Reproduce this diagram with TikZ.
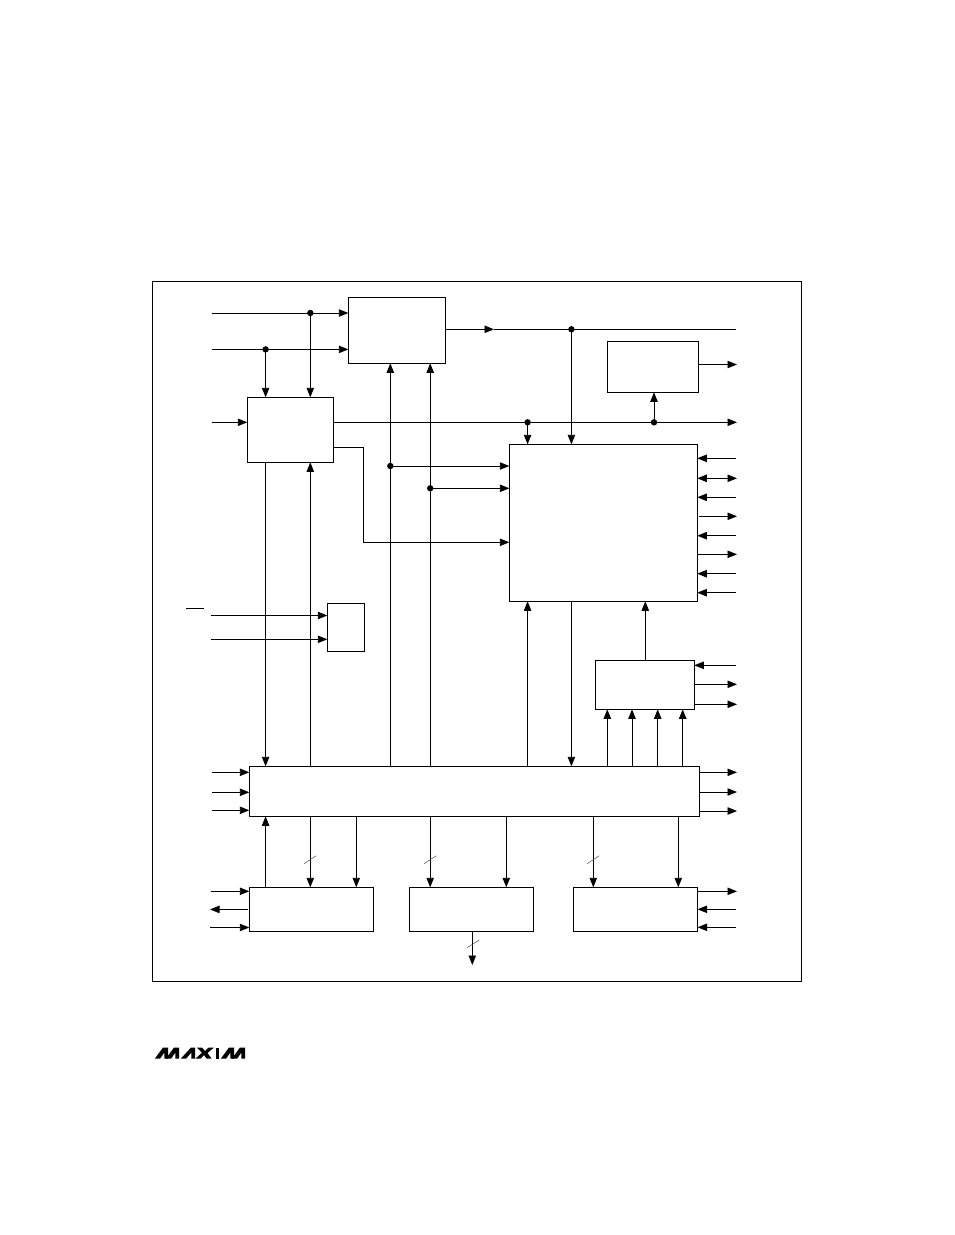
\documentclass[tikz,border=0pt]{standalone}
\usetikzlibrary{arrows.meta}
\tikzset{
  box/.style={draw=black,line width=0.9pt,fill=white,inner sep=0pt,outer sep=0pt,anchor=north west},
  wire/.style={draw=black,line width=0.9pt},
  arr/.style={wire,-{Triangle[length=9.5pt,width=7.4pt]}},
  darr/.style={wire,{Triangle[length=9.5pt,width=7.4pt]}-{Triangle[length=9.5pt,width=7.4pt]}},
  junction/.style={circle,fill=black,inner sep=0pt,minimum size=6.4pt},
  tick/.style={draw=black!70,line width=0.5pt},
  logo/.style={fill=black,draw=none}
}
\newcommand{\logowedge}[3]{% start x, apex x, right x
  \fill[logo] (#1,1058.5) -- (#2,1047.5) -- (#3,1047.5) -- (#3,1058.5) -- ({#3-3.6},1058.5) -- ({#3-3.6},1052.5) -- ({#1+5.2},1058.5) -- cycle;}
\begin{document}
\begin{tikzpicture}[x=1pt,y=-1pt]
\useasboundingbox (0,0) rectangle (954,1235);
\fill[white] (0,0) rectangle (954,1235);
\draw[line width=0.9pt] (152.5,281.5) rectangle (801.8,981.4);
% blocks
\node[box,minimum width=97pt,minimum height=66pt] (A) at (348.3,297.3) {};
\node[box,minimum width=86.4pt,minimum height=65pt] (B) at (247.3,397.3) {};
\node[box,minimum width=37pt,minimum height=48pt] (C) at (327.3,603.3) {};
\node[box,minimum width=188pt,minimum height=157pt] (D) at (509.3,444.3) {};
\node[box,minimum width=91pt,minimum height=51pt] (E) at (607.3,341.3) {};
\node[box,minimum width=99pt,minimum height=49pt] (F) at (595.3,660.3) {};
\node[box,minimum width=450pt,minimum height=50pt] (G) at (249.3,766.3) {};
\node[box,minimum width=124pt,minimum height=44pt] (H) at (249.3,887.3) {};
\node[box,minimum width=124pt,minimum height=44pt] (I) at (409.3,887.3) {};
\node[box,minimum width=124.3pt,minimum height=44pt] (J) at (573.3,887.3) {};
% free ends
\coordinate (la) at (212,313);
\coordinate (lb) at (212,349.4);
\coordinate (lc) at (212,422.3);
\coordinate (ld) at (211,615.5);
\coordinate (le) at (211,639.3);
\coordinate (lf) at (212,772.3);
\coordinate (lg) at (212,792.3);
\coordinate (lh) at (212,810.3);
\coordinate (li) at (211,891.3);
\coordinate (lj) at (210,909.4);
\coordinate (lk) at (210,927.5);
\coordinate (ra) at (736,329.3);
\coordinate (rb) at (737,364.5);
\coordinate (rc) at (737,422.3);
\coordinate (rd) at (736,458.3);
\coordinate (re) at (737,478.3);
\coordinate (rf) at (736,497.3);
\coordinate (rg) at (737,516.3);
\coordinate (rh) at (736,535.7);
\coordinate (ri) at (737,554.3);
\coordinate (rj) at (736,573.7);
\coordinate (rk) at (736,592.7);
\coordinate (rl) at (736,665.3);
\coordinate (rm) at (737,684.3);
\coordinate (rn) at (737,704.3);
\coordinate (ro) at (737,772.3);
\coordinate (rp) at (737,792);
\coordinate (rq) at (737,811);
\coordinate (rr) at (737,891.3);
\coordinate (rs) at (736,909.3);
\coordinate (rt) at (736,927.3);
\coordinate (mid) at (494,329.3);
\coordinate (bout) at (472.3,965);
% column helpers
\coordinate (x1) at (265.6,0);
\coordinate (x2) at (310.3,0);
\coordinate (x3) at (390.3,0);
\coordinate (x4) at (430.2,0);
\coordinate (x5) at (527.6,0);
\coordinate (x6) at (571.4,0);
\coordinate (x7) at (654,0);
\coordinate (x8) at (645.3,0);
\coordinate (xa) at (607.3,0);
\coordinate (xb) at (632,0);
\coordinate (xc) at (657.7,0);
\coordinate (xd) at (682.7,0);
\coordinate (xe) at (356.3,0);
\coordinate (xf) at (506.3,0);
\coordinate (xg) at (593.3,0);
\coordinate (xh) at (678.3,0);
\coordinate (xk) at (363.5,0);
\coordinate (y1) at (0,447.5);
\coordinate (y2) at (0,466);
\coordinate (y3) at (0,488.3);
\coordinate (y4) at (0,542.3);
% junctions
\node[junction] (j1) at (la -| x2) {};
\node[junction] (j2) at (lb -| x1) {};
\node[junction] (j3) at (ra -| x6) {};
\node[junction] (j4) at (rc -| x5) {};
\node[junction] (j5) at (rc -| x7) {};
\node[junction] (j6) at (y2 -| x3) {};
\node[junction] (j7) at (y3 -| x4) {};
% top inputs
\draw[arr] (la) -- (la -| A.west);
\draw[arr] (lb) -- (lb -| A.west);
\draw[arr] (j1.center) -- (j1 |- B.north);
\draw[arr] (j2.center) -- (j2 |- B.north);
\draw[arr] (lc) -- (lc -| B.west);
% A output
\draw[arr] (ra -| A.east) -- (mid);
\draw[wire] (mid) -- (ra);
\draw[arr] (j3.center) -- (j3 |- D.north);
% E
\draw[arr] (rb -| E.east) -- (rb);
\draw[arr] (j5.center) -- (j5 |- E.south);
% B output
\draw[arr] (rc -| B.east) -- (rc);
\draw[arr] (j4.center) -- (j4 |- D.north);
\draw[arr] (y1 -| B.east) -- (y1 -| xk) -- (y4 -| xk) -- (y4 -| D.west);
% uprights to A
\draw[arr] (x3 |- G.north) -- (x3 |- A.south);
\draw[arr] (x4 |- G.north) -- (x4 |- A.south);
\draw[arr] (j6.center) -- (y2 -| D.west);
\draw[arr] (j7.center) -- (y3 -| D.west);
% B to G
\draw[arr] (x1 |- B.south) -- (x1 |- G.north);
\draw[arr] (x2 |- G.north) -- (x2 |- B.south);
% C inputs
\draw[arr] (ld) -- (ld -| C.west);
\draw[arr] (le) -- (le -| C.west);
\draw[line width=0.9pt] (186,608.3) -- (203.7,608.3);
% D right
\draw[arr] (rd) -- (rd -| D.east);
\draw[darr] (re -| D.east) -- (re);
\draw[arr] (rf) -- (rf -| D.east);
\draw[arr] ([xshift=1.5pt]rg -| D.east) -- (rg);
\draw[arr] (rh) -- (rh -| D.east);
\draw[arr] (ri -| D.east) -- (ri);
\draw[arr] (rj) -- (rj -| D.east);
\draw[arr] (rk) -- (rk -| D.east);
% D bottom
\draw[arr] (x5 |- G.north) -- (x5 |- D.south);
\draw[arr] (x6 |- D.south) -- (x6 |- G.north);
\draw[arr] ([yshift=-1pt]x8 |- F.north) -- (x8 |- D.south);
% F
\draw[arr] (rl) -- (rl -| F.east);
\draw[arr] (rm -| F.east) -- (rm);
\draw[arr] (rn -| F.east) -- (rn);
\draw[arr] (xa |- G.north) -- (xa |- F.south);
\draw[arr] (xb |- G.north) -- (xb |- F.south);
\draw[arr] (xc |- G.north) -- (xc |- F.south);
\draw[arr] (xd |- G.north) -- (xd |- F.south);
% G sides
\draw[arr] (lf) -- (lf -| G.west);
\draw[arr] (lg) -- (lg -| G.west);
\draw[arr] (lh) -- (lh -| G.west);
\draw[arr] (ro -| G.east) -- (ro);
\draw[arr] (rp -| G.east) -- (rp);
\draw[arr] (rq -| G.east) -- (rq);
% G to lower blocks
\draw[arr] (x1 |- H.north) -- (x1 |- G.south);
\draw[arr] (x2 |- G.south) -- (x2 |- H.north);
\draw[arr] (xe |- G.south) -- (xe |- H.north);
\draw[arr] (x4 |- G.south) -- (x4 |- I.north);
\draw[arr] (xf |- G.south) -- (xf |- I.north);
\draw[arr] (xg |- G.south) -- (xg |- J.north);
\draw[arr] (xh |- G.south) -- (xh |- J.north);
% H sides
\draw[arr] (li) -- (li -| H.west);
\draw[arr] ([xshift=-1.5pt]lj -| H.west) -- (lj);
\draw[arr] (lk) -- (lk -| H.west);
% J sides
\draw[arr] (rr -| J.east) -- (rr);
\draw[arr] (rs) -- (rs -| J.east);
\draw[arr] (rt) -- (rt -| J.east);
% I out
\draw[arr] (bout |- I.south) -- (bout);
% ticks
\draw[tick] (304,863.7) -- (316.3,855.7);
\draw[tick] (424,863.7) -- (436.3,855.7);
\draw[tick] (587,863.7) -- (599.3,855.7);
\draw[tick] (467,947.7) -- (479.3,940);
% logo
\logowedge{155}{163}{168}
\logowedge{166}{174}{179}
\logowedge{181}{191}{195}
\fill[logo] (197,1047.5) -- (202,1047.5) -- (205,1051) -- (208.5,1047.5) -- (214,1047.5) -- (207.5,1053) -- (211.5,1058.5) -- (206.5,1058.5) -- (204,1055) -- (200.5,1058.5) -- (195.5,1058.5) -- (202,1052.8) -- cycle;
\fill[logo] (215.5,1047.5) -- (219.3,1047.5) -- (219.3,1058.5) -- (215.5,1058.5) -- cycle;
\logowedge{221}{229}{234}
\logowedge{232}{240}{245}
\end{tikzpicture}
\end{document}
